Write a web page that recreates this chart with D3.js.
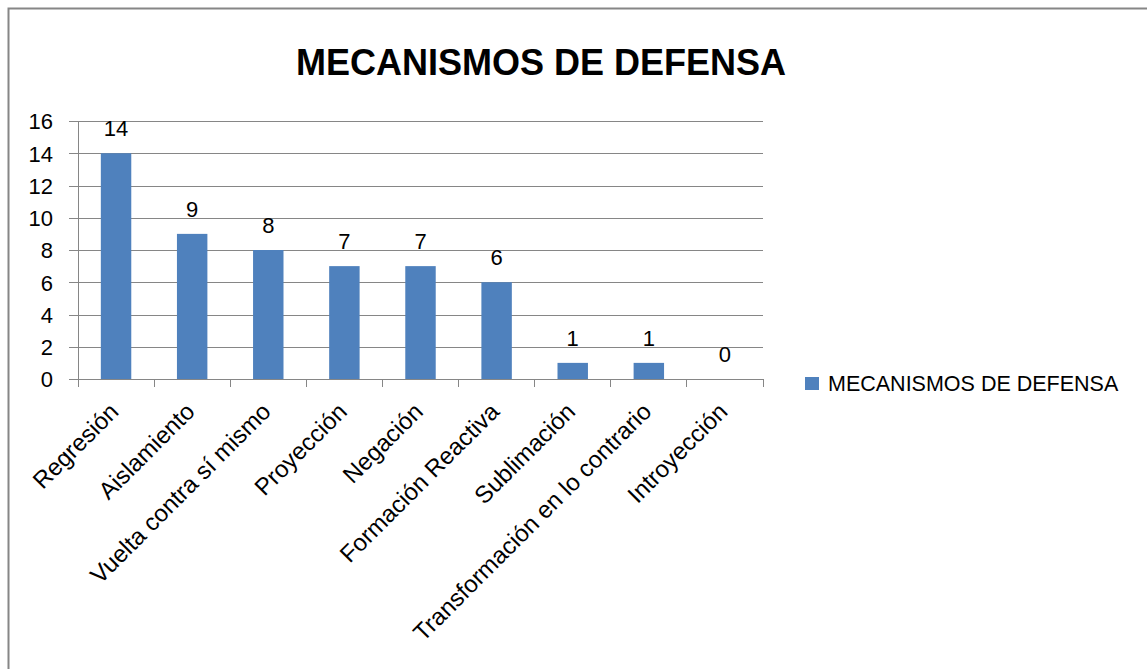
<!DOCTYPE html>
<html lang="es">
<head>
  <meta charset="UTF-8" />
  <title>Mecanismos de defensa</title>
  <script src="https://d3js.org/d3.v7.min.js"></script>
  <style>
    html, body {
      margin: 0;
      padding: 0;
      background: #fff;
      overflow: hidden;
    }
    svg text {
      font-family: "Liberation Sans", Arial, sans-serif;
      fill: #000;
    }
  </style>
</head>
<body>
  <svg id="chart" width="1147" height="669"></svg>

  <script>
    const categories = [
      "Regresión",
      "Aislamiento",
      "Vuelta contra sí mismo",
      "Proyección",
      "Negación",
      "Formación Reactiva",
      "Sublimación",
      "Transformación en lo contrario",
      "Introyección"
    ];
    const values = [14, 9, 8, 7, 7, 6, 1, 1, 0];
    const yTicks = [0, 2, 4, 6, 8, 10, 12, 14, 16];
    const seriesName = "MECANISMOS DE DEFENSA";
    const chartTitle = "MECANISMOS DE DEFENSA";

    const svg = d3.select("#chart");
    const grey = "#868686";
    const blue = "#4F81BD";

    // outer frame (runs off the right/bottom edge like the screenshot)
    svg.append("rect")
      .attr("x", 8.5).attr("y", 8.5)
      .attr("width", 1160).attr("height", 680)
      .attr("fill", "none")
      .attr("stroke", grey)
      .attr("stroke-width", 2);

    svg.append("text")
      .attr("x", 541)
      .attr("y", 75)
      .attr("text-anchor", "middle")
      .attr("font-size", "36px")
      .attr("font-weight", "bold")
      .text(chartTitle);

    const plotL = 78, plotR = 763, plotT = 121, plotB = 379;

    const x = d3.scaleBand()
      .domain(categories)
      .range([plotL, plotR])
      .paddingInner(0.6)
      .paddingOuter(0.3);

    const y = d3.scaleLinear()
      .domain([0, 16])
      .range([plotB, plotT]);

    // gridlines + y ticks
    const yAxis = svg.append("g")
      .attr("transform", `translate(${plotL},0)`)
      .call(d3.axisLeft(y).tickValues(yTicks).tickSize(-(plotR - plotL)).tickSizeOuter(0).tickPadding(0));
    yAxis.select(".domain").remove();
    yAxis.selectAll(".tick line")
      .attr("x1", -9)
      .attr("stroke", grey)
      .attr("shape-rendering", "crispEdges");
    yAxis.selectAll(".tick text")
      .attr("x", -25)
      .attr("dy", "0.36em")
      .attr("font-size", "22px")
      .attr("font-family", "Liberation Sans, Arial, sans-serif")
      .attr("fill", "#000");

    // y axis line
    svg.append("line")
      .attr("x1", plotL).attr("x2", plotL)
      .attr("y1", plotT).attr("y2", plotB)
      .attr("stroke", grey)
      .attr("shape-rendering", "crispEdges");

    // bars
    svg.append("g")
      .selectAll("rect")
      .data(values)
      .join("rect")
      .attr("x", (d, i) => x(categories[i]))
      .attr("width", x.bandwidth())
      .attr("y", d => y(d))
      .attr("height", d => y(0) - y(d))
      .attr("fill", blue);

    // x axis line + category boundary ticks
    const boundaries = d3.range(categories.length + 1).map(i => plotL + i * (plotR - plotL) / categories.length);
    svg.append("line")
      .attr("x1", plotL - 9).attr("x2", plotR)
      .attr("y1", plotB).attr("y2", plotB)
      .attr("stroke", grey)
      .attr("shape-rendering", "crispEdges");
    svg.append("g")
      .selectAll("line")
      .data(boundaries)
      .join("line")
      .attr("x1", d => d).attr("x2", d => d)
      .attr("y1", plotB).attr("y2", plotB + 8)
      .attr("stroke", grey)
      .attr("shape-rendering", "crispEdges");

    // data labels
    svg.append("g")
      .selectAll("text")
      .data(values)
      .join("text")
      .attr("x", (d, i) => x(categories[i]) + x.bandwidth() / 2)
      .attr("y", d => y(d) - 17)
      .attr("text-anchor", "middle")
      .attr("font-size", "22px")
      .text(d => d);

    // category labels
    svg.append("g")
      .selectAll("text")
      .data(categories)
      .join("text")
      .attr("transform", d => `translate(${x(d) + x.bandwidth() / 2 + 4},413) rotate(-45)`)
      .attr("text-anchor", "end")
      .attr("font-size", "24px")
      .text(d => d);

    // legend
    const legend = svg.append("g").attr("transform", "translate(805,377)");
    legend.append("rect")
      .attr("width", 14).attr("height", 13)
      .attr("fill", blue);
    legend.append("text")
      .attr("x", 23).attr("y", 14)
      .attr("font-size", "21.5px")
      .text(seriesName);
  </script>
</body>
</html>
